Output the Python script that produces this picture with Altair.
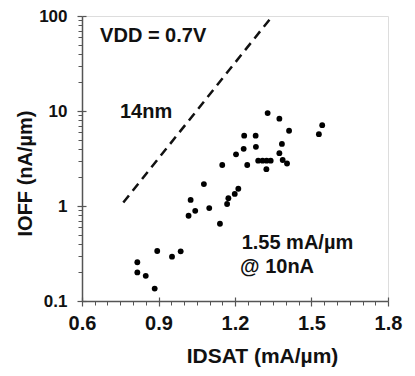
import altair as alt
import pandas as pd

# Scatter data
idsat = [1.328, 1.374, 1.542, 1.529, 1.412, 1.236, 1.281, 1.234, 1.282, 1.384,
         1.204, 1.374, 1.150, 1.248, 1.291, 1.308, 1.324, 1.340, 1.387, 1.404,
         1.323, 1.078, 1.213, 1.199, 1.174, 1.026, 1.169, 1.099, 1.044, 1.018,
         1.141, 0.895, 0.987, 0.953, 0.817, 0.817, 0.850, 0.885]
ioff = [9.5, 8.3, 7.1, 5.7, 6.2, 5.5, 5.5, 4.0, 4.2, 4.5,
        3.5, 3.6, 2.7, 2.7, 3.0, 3.0, 3.0, 3.0, 3.05, 2.8,
        2.44, 1.7, 1.52, 1.34, 1.21, 1.16, 1.05, 0.95, 0.89, 0.79,
        0.65, 0.336, 0.333, 0.293, 0.256, 0.20, 0.184, 0.135]

# 14nm trend line
trend_x = [0.762, 1.344]
trend_y = [1.09, 98]

# Axis ticks
x_major = [0.6, 0.9, 1.2, 1.5, 1.8]
x_minor = [0.65, 0.7, 0.75, 0.8, 0.85, 0.95, 1.0, 1.05, 1.1, 1.15,
           1.25, 1.3, 1.35, 1.4, 1.45, 1.55, 1.6, 1.65, 1.7, 1.75]
y_major = [0.1, 1, 10, 100]
y_minor = [0.2, 0.3, 0.4, 0.5, 0.6, 0.7, 0.8, 0.9,
           2, 3, 4, 5, 6, 7, 8, 9,
           20, 30, 40, 50, 60, 70, 80, 90]

# Annotations
notes = ["VDD = 0.7V", "14nm", "1.55 mA/µm", "@ 10nA"]
note_x = [0.671, 0.749, 1.226, 1.220]
note_y = [53.5, 8.4, 0.356, 0.195]

FONT = "Liberation Sans"
TXT = "#111111"
AX = "#555555"

xs = alt.Scale(domain=[0.6, 1.8], nice=False, zero=False)
ys = alt.Scale(type="log", domain=[0.1, 100], nice=False)

pts = alt.Chart(pd.DataFrame({"IDSAT": idsat, "IOFF": ioff})).mark_circle(
    size=34, color="black", opacity=1
).encode(
    x=alt.X("IDSAT:Q", scale=xs, axis=alt.Axis(
        values=x_major, format=".1f", tickSize=5, tickWidth=1.2, labelPadding=7,
        labelFlush=False, labelFontSize=20, labelFontWeight="bold",
        labelFont=FONT, labelColor=TXT,
        domainColor=AX, domainWidth=1.5, tickColor=AX, grid=False,
        title="IDSAT (mA/µm)", titleFont=FONT, titleFontSize=21,
        titleFontWeight="bold", titleColor=TXT, titleX=180, titleY=61,
        titleBaseline="alphabetic", orient="bottom")),
    y=alt.Y("IOFF:Q", scale=ys, axis=alt.Axis(
        values=y_major, format="~g", tickSize=5, tickWidth=1.2, labelPadding=10,
        labelFlush=False, labelFontSize=17, labelFontWeight="bold",
        labelFont=FONT, labelColor=TXT,
        domainColor=AX, domainWidth=1.5, tickColor=AX, grid=False,
        title="IOFF (nA/µm)", titleFont=FONT, titleFontSize=20,
        titleFontWeight="bold", titleColor=TXT, titleX=-57, titleY=157,
        titleBaseline="middle", titleAngle=-90, orient="left")),
)

line = alt.Chart(pd.DataFrame({"x": trend_x, "y": trend_y})).mark_line(
    color=TXT, strokeWidth=2.5, strokeDash=[9, 6]
).encode(
    x=alt.X("x:Q", scale=xs, axis=alt.Axis(
        values=x_minor, labels=False, domain=False, tickSize=4, tickColor=AX,
        grid=False, title=None, orient="bottom")),
    y=alt.Y("y:Q", scale=ys, axis=alt.Axis(
        values=y_minor, labels=False, domain=False, tickSize=4, tickColor=AX,
        grid=False, title=None, orient="left")),
)

text = alt.Chart(pd.DataFrame({"x": note_x, "y": note_y, "t": notes})).mark_text(
    align="left", baseline="alphabetic", font=FONT, fontSize=20,
    fontWeight="bold", color=TXT
).encode(
    x=alt.X("x:Q", scale=xs, axis=alt.Axis(
        values=x_major, labels=False, domain=False, tickSize=4, tickWidth=1.2,
        tickColor=AX, grid=False, title=None, offset=-4, orient="bottom")),
    y=alt.Y("y:Q", scale=ys, axis=alt.Axis(
        values=y_major, labels=False, domain=False, tickSize=4, tickWidth=1.2,
        tickColor=AX, grid=False, title=None, offset=-4, orient="left")),
    text="t:N",
)

chart = alt.layer(pts, line, text).resolve_axis(
    x="independent", y="independent"
).properties(
    width=306, height=285, autosize="none",
    padding={"left": 74, "top": 8, "right": 19, "bottom": 70},
).configure_view(stroke="#777777", strokeWidth=1.5).configure(background="white")

chart.save("out.html", embed_options={"renderer": "svg", "actions": False})
